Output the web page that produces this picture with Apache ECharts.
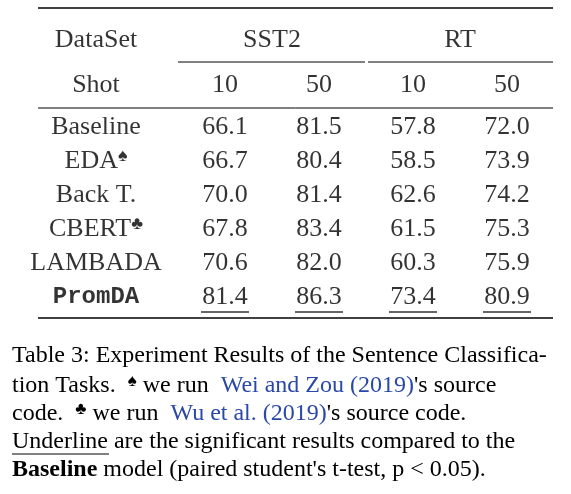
<!DOCTYPE html><html><head><meta charset="utf-8"><script src="https://cdn.jsdelivr.net/npm/echarts@6/dist/echarts.min.js"></script>
<style>html,body{margin:0;background:#fff}#c{width:571px;height:494px}</style></head><body><div id="c"></div><script>
const columns=['name','SST2-10','SST2-50','RT-10','RT-50'];
const methods=['Baseline','EDA{s|♠}','Back T.','CBERT{s|♣}','LAMBADA','{m|PromDA}'];
const sst2_10=['66.1','66.7','70.0','67.8','70.6','81.4'];
const sst2_50=['81.5','80.4','81.4','83.4','82.0','86.3'];
const rt_10=['57.8','58.5','62.6','61.5','60.3','73.4'];
const rt_50=['72.0','73.9','74.2','75.3','75.9','80.9'];
const shots=['10','50','10','50'];
const underlinedRow=5;
const F='"Liberation Serif","DejaVu Serif",serif';
const pts=[];
pts.push({value:['name',-2.56],label:{formatter:'DataSet',offset:[-35,0]}});
pts.push({value:['SST2-50',-2.56],label:{formatter:'SST2',offset:[-47,0]}});
pts.push({value:['RT-50',-2.56],label:{formatter:'RT',offset:[-47,0]}});
pts.push({value:['name',-1.24],label:{formatter:'Shot',offset:[-35,0]}});
shots.forEach((s,i)=>pts.push({value:[columns[i+1],-1.24],label:{formatter:s}}));
const cols=[sst2_10,sst2_50,rt_10,rt_50];
methods.forEach((m,r)=>{
  pts.push({value:['name',r],label:{formatter:m,offset:[-35,0]}});
  cols.forEach((c,j)=>pts.push({value:[columns[j+1],r],label:{formatter:c[r]}}));
});
const ul=cols.map((c,j)=>[columns[j+1],underlinedRow]);
const chart=echarts.init(document.getElementById('c'));
const lineStyle={stroke:'#000',lineWidth:1.3};
const cap={fontSize:24,fontFamily:F,fill:'#000'};
const sup={fontSize:17,fontFamily:F,fill:'#000',verticalAlign:'top',padding:[0,0,8,0]};
const blue={fill:'#2a48a8',fontSize:24,fontFamily:F};
chart.setOption({
  animation:false,
  grid:{left:84,right:17,top:8,height:323},
  xAxis:{type:'category',data:columns,show:false},
  yAxis:{type:'value',inverse:true,min:-3.5,max:6,show:false},
  series:[
    {type:'scatter',symbolSize:0,data:pts,label:{show:true,position:'inside',color:'#000',textBorderWidth:0,fontFamily:F,fontSize:26,
      rich:{s:{fontSize:18,color:'#000',verticalAlign:'top',padding:[0,0,10,0],fontFamily:F},m:{color:'#000',fontFamily:'"Liberation Mono",monospace',fontWeight:'bold',fontSize:24}}}},
    {type:'scatter',symbol:'rect',symbolSize:[48,1.3],symbolOffset:[0,15],itemStyle:{color:'#000'},data:ul}
  ],
  graphic:[
    {type:'line',shape:{x1:38,y1:8,x2:553,y2:8},style:lineStyle},
    {type:'line',shape:{x1:178,y1:62,x2:365,y2:62},style:{stroke:'#000',lineWidth:1}},
    {type:'line',shape:{x1:368,y1:62,x2:553,y2:62},style:{stroke:'#000',lineWidth:1}},
    {type:'line',shape:{x1:38,y1:108,x2:553,y2:108},style:{stroke:'#000',lineWidth:1}},
    {type:'line',shape:{x1:38,y1:318,x2:553,y2:318},style:lineStyle},
    {type:'text',left:12,top:344,style:Object.assign({text:'Table 3: Experiment Results of the Sentence Classifica-'},cap)},
    {type:'text',left:12,top:373,style:Object.assign({text:'tion Tasks.  {s|♠} we run  {b|Wei and Zou (2019)}\'s source',rich:{s:sup,b:blue}},cap)},
    {type:'text',left:12,top:401,style:Object.assign({text:'code.  {s|♣} we run  {b|Wu et al. (2019)}\'s source code.',rich:{s:sup,b:blue}},cap)},
    {type:'text',left:12,top:430,style:Object.assign({text:'Underline are the significant results compared to the'},cap)},
    {type:'line',shape:{x1:12,y1:454,x2:109,y2:454},style:{stroke:'#000',lineWidth:1}},
    {type:'text',left:12,top:458,style:Object.assign({text:'{b|Baseline} model (paired student\'s t-test, p < 0.05).',rich:{b:{fontWeight:'bold',fontSize:24,fontFamily:F,fill:'#000'}}},cap)}
  ]
});
</script></body></html>
